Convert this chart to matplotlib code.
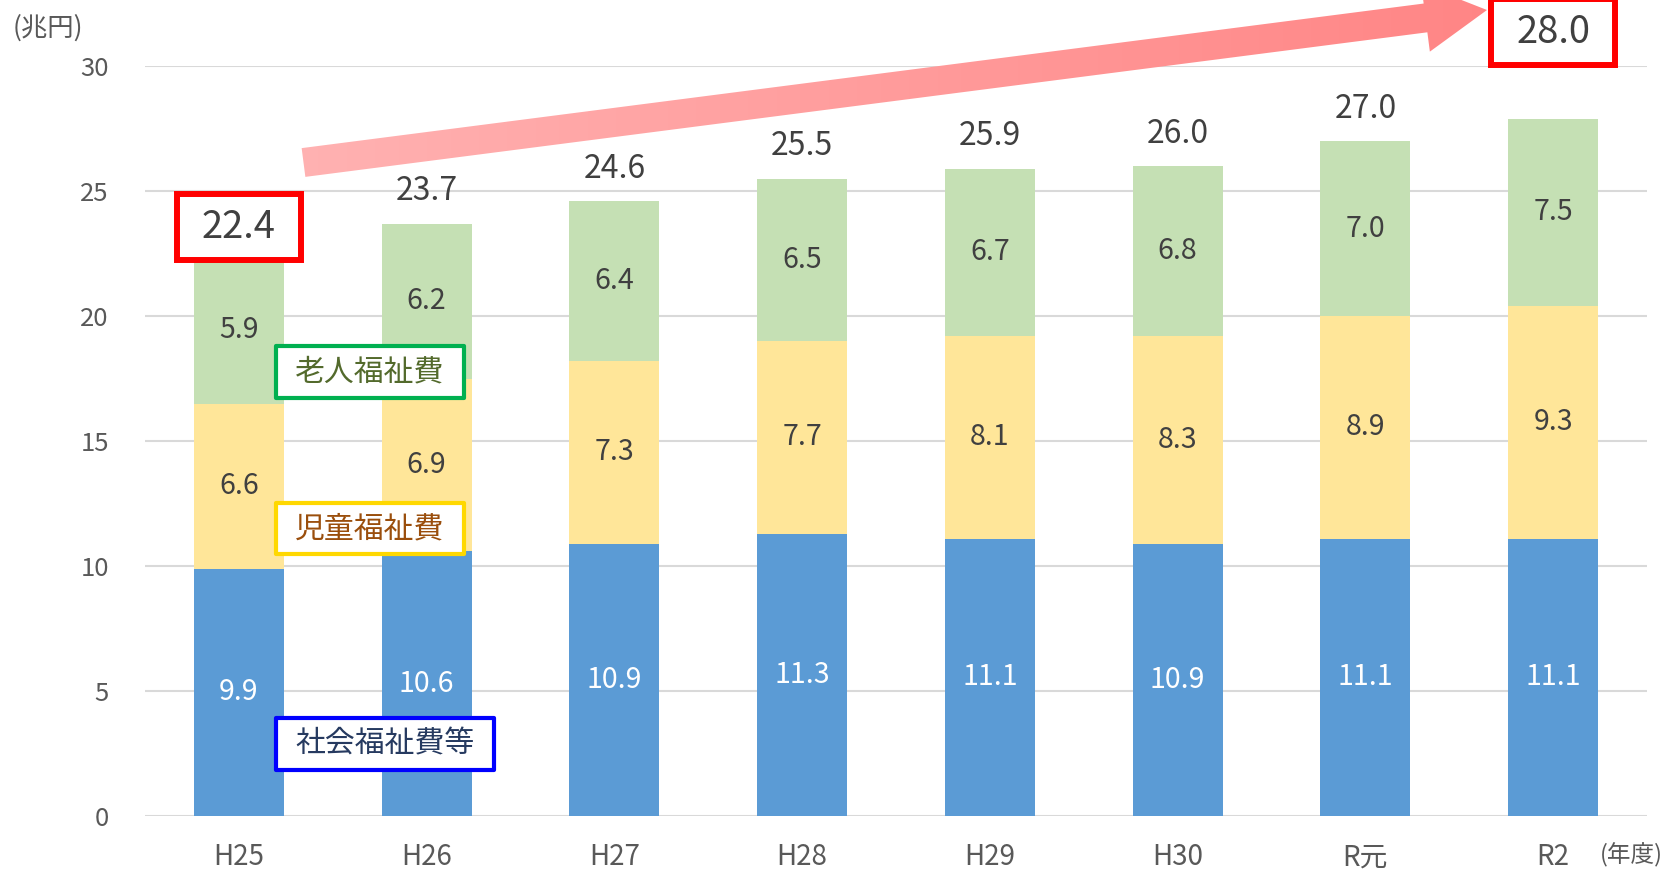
import numpy as np
import matplotlib
matplotlib.use("Agg")
import matplotlib.pyplot as plt
from matplotlib.patches import Rectangle, Polygon

plt.rcParams['font.family'] = ['Noto Sans CJK JP', 'DejaVu Sans']

# data (兆円)
years = ['H25', 'H26', 'H27', 'H28', 'H29', 'H30', 'R元', 'R2']
social = [9.9, 10.6, 10.9, 11.3, 11.1, 10.9, 11.1, 11.1]     # 社会福祉費等
child = [6.6, 6.9, 7.3, 7.7, 8.1, 8.3, 8.9, 9.3]             # 児童福祉費
elderly = [5.9, 6.2, 6.4, 6.5, 6.7, 6.8, 7.0, 7.5]           # 老人福祉費
totals = [22.4, 23.7, 24.6, 25.5, 25.9, 26.0, 27.0, 28.0]
boxed = [0, 7]   # totals drawn in red boxes

C_BLUE = '#5b9bd5'
C_YEL = '#ffe699'
C_GRN = '#c5e0b4'
TXT = '#404040'
GRAY = '#595959'

W, H = 1666, 875
fig = plt.figure(figsize=(W / 100, H / 100), dpi=100)
ax = fig.add_axes([145 / W, 1 - 816 / H, (1647 - 145) / W, (816 - 66) / H])

x = np.arange(len(years))
s = np.array(social)
c = np.array(child)
e = np.array(elderly)
bw = 0.48
ax.bar(x, s, bw, color=C_BLUE, zorder=2)
ax.bar(x, c, bw, bottom=s, color=C_YEL, zorder=2)
ax.bar(x, e, bw, bottom=s + c, color=C_GRN, zorder=2)

ax.set_xlim(-0.5, len(years) - 0.5)
ax.set_ylim(0, 30)
ax.set_yticks(range(0, 31, 5))
ax.yaxis.grid(True, color='#d9d9d9', lw=1.5, zorder=0)
ax.set_axisbelow(True)
for sp in ax.spines.values():
    sp.set_visible(False)
ax.set_xticks(x)
ax.set_xticklabels(years)
ax.tick_params(axis='x', length=0, pad=19, labelsize=20, labelcolor=GRAY)
ax.tick_params(axis='y', length=0, pad=26, labelsize=18.5, labelcolor=GRAY)

# segment labels
for i in x:
    ax.text(i, s[i] / 2, f'{s[i]:.1f}', ha='center', va='center',
            fontsize=20.5, color='white', zorder=3)
    ax.text(i, s[i] + c[i] / 2, f'{c[i]:.1f}', ha='center', va='center',
            fontsize=20.5, color=TXT, zorder=3)
    ax.text(i, s[i] + c[i] + e[i] / 2, f'{e[i]:.1f}', ha='center', va='center',
            fontsize=20.5, color=TXT, zorder=3)

# totals
for i in x:
    if i in boxed:
        ty = totals[i] + 1.15 if i == 0 else 31.36
        ax.text(i, ty, f'{totals[i]:.1f}', ha='center', va='center',
                fontsize=27.5, color=TXT, zorder=5, clip_on=False)
        ax.add_patch(Rectangle((i - 0.33, ty - 1.32), 0.66, 2.64, fill=True,
                               facecolor='white', edgecolor='#ff0000', lw=4.3,
                               zorder=4, clip_on=False))
    else:
        ax.text(i, totals[i] + 1.3, f'{totals[i]:.1f}', ha='center', va='center',
                fontsize=23, color=TXT, zorder=5, clip_on=False)

# series name boxes
names = [('老人福祉費', '#00b050', '#536a2c', 16.72, 18.8, 1.199),
         ('児童福祉費', '#ffd800', '#9a4e0c', 10.48, 12.52, 1.199),
         ('社会福祉費等', '#0000ff', '#263a60', 1.84, 3.92, 1.359)]
for name, ec, tc, y0, y1, x1 in names:
    x0 = 0.198
    ax.add_patch(Rectangle((x0, y0), x1 - x0, y1 - y0, facecolor='white',
                           edgecolor=ec, lw=3, zorder=6, joinstyle='round'))
    ax.text((x0 + x1) / 2, (y0 + y1) / 2, name, ha='center', va='center',
            fontsize=21.5, color=tc, zorder=7)

fig.text(13 / W, 1 - 28 / H, '(兆円)', ha='left', va='center', fontsize=19, color=GRAY)
fig.text(1663 / W, 1 - 855 / H, '(年度)', ha='right', va='center', fontsize=17, color=GRAY)

# gradient arrow, pixel coordinates overlay
ov = fig.add_axes([0, 0, 1, 1], facecolor='none')
ov.set_axis_off()
T = np.array([303.5, 162.5])
P = np.array([1487.0, 10.0])
u = (P - T) / np.linalg.norm(P - T)
n = np.array([-u[1], u[0]])
wsh, whd, lhd = 14.5, 34.0, 62.0
B = P - u * lhd
pts = [T + n * wsh, B + n * wsh, B + n * whd, P, B - n * whd, B - n * wsh, T - n * wsh]
poly = Polygon(pts, closed=True, facecolor='none', edgecolor='none')
ov.add_patch(poly)
grad = np.linspace(0, 1, 256)[None, :]
cmap = matplotlib.colors.LinearSegmentedColormap.from_list('pk', ['#ffb2b2', '#ff8585'])
im = ov.imshow(grad, cmap=cmap, extent=(290, 1500, 200, -50), aspect='auto')
im.set_clip_path(poly)
ov.set_xlim(0, W)
ov.set_ylim(H, 0)

fig.savefig('out.png', dpi=100)
